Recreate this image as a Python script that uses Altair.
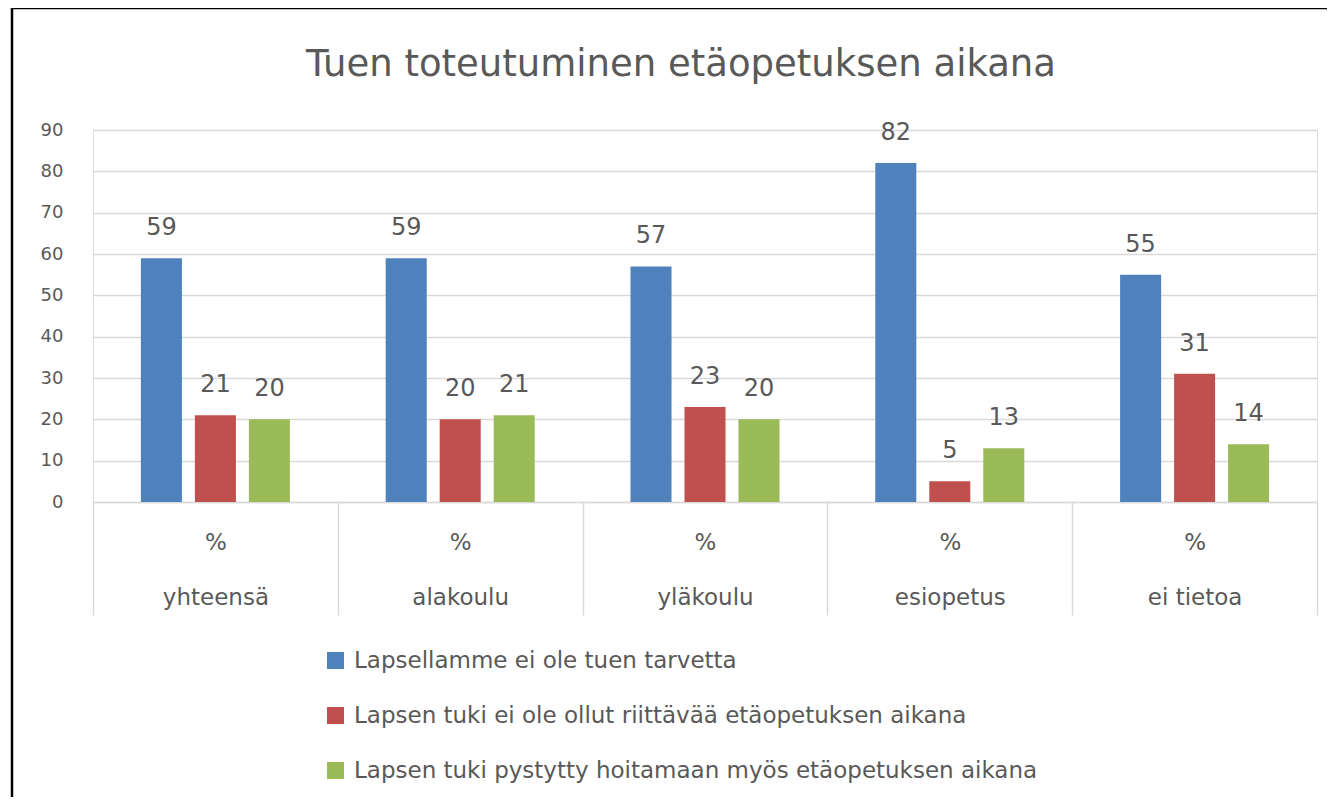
import altair as alt
import pandas as pd

# ---- data ----
categories = ["yhteensä", "alakoulu", "yläkoulu", "esiopetus", "ei tietoa"]
series = [
    "Lapsellamme ei ole tuen tarvetta",
    "Lapsen tuki ei ole ollut riittävää etäopetuksen aikana",
    "Lapsen tuki pystytty hoitamaan myös etäopetuksen aikana",
]
no_need = [59, 59, 57, 82, 55]
not_enough = [21, 20, 23, 5, 31]
handled = [20, 21, 20, 13, 14]
colors = ["#4F81BD", "#C0504D", "#9BBB59"]
y_ticks = [0, 10, 20, 30, 40, 50, 60, 70, 80, 90]
title_text = "Tuen toteutuminen etäopetuksen aikana"

rows = []
for s, vals in zip(series, [no_need, not_enough, handled]):
    for c, v in zip(categories, vals):
        rows.append({"category": c, "series": s, "value": v})
df = pd.DataFrame(rows)

FONT = "DejaVu Sans"
TEXT = "#595959"
GRID = "#D9D9D9"
W, H = 1224, 372

x_enc = alt.X(
    "category:N",
    sort=categories,
    scale=alt.Scale(paddingInner=0, paddingOuter=0),
    axis=alt.Axis(
        title=None,
        labelAngle=0,
        tickBand="extent",
        tickSize=113,
        tickColor=GRID,
        tickWidth=1.5,
        domainColor=GRID,
        domainWidth=1.5,
        labelExpr="datum.label ? ['%', datum.label] : ''",
        labelLineHeight=55,
        labelBaseline="top",
        labelPadding=-84,
        labelFont=FONT,
        labelFontSize=23,
        labelColor=TEXT,
        labelLimit=300,
    ),
)
xo_enc = alt.XOffset(
    "series:N", sort=series, scale=alt.Scale(paddingInner=0.24, paddingOuter=0.887)
)
y_enc = alt.Y(
    "value:Q",
    scale=alt.Scale(domain=[0, 90], nice=False),
    axis=alt.Axis(
        title=None,
        values=y_ticks,
        domain=False,
        ticks=False,
        labelPadding=30,
        grid=True,
        gridColor=GRID,
        gridWidth=1.5,
        labelFont=FONT,
        labelFontSize=18,
        labelColor=TEXT,
    ),
)
color_enc = alt.Color(
    "series:N",
    sort=series,
    scale=alt.Scale(domain=series, range=colors),
    legend=alt.Legend(
        title=None,
        orient="none",
        legendX=231,
        legendY=519,
        direction="vertical",
        symbolType="square",
        symbolSize=289,
        symbolStrokeWidth=0,
        labelFont=FONT,
        labelFontSize=23,
        labelColor=TEXT,
        labelOffset=7,
        rowPadding=31,
        labelLimit=1000,
        padding=0,
    ),
)

base = alt.Chart(df)
bars = base.mark_bar().encode(x=x_enc, xOffset=xo_enc, y=y_enc, color=color_enc)
labels = base.mark_text(
    baseline="alphabetic", dy=-23, font=FONT, fontSize=24, color=TEXT
).encode(x=x_enc, xOffset=xo_enc, y=y_enc, text="value:Q")

frame_data = alt.Data(values=[{"k": 0}])
top_line = alt.Chart(frame_data).mark_rule(color="black", strokeWidth=2.5).encode(
    x=alt.value(-81), x2=alt.value(1300), y=alt.value(-122)
)
left_line = alt.Chart(frame_data).mark_rule(color="black", strokeWidth=2.5).encode(
    x=alt.value(-81), y=alt.value(-122), y2=alt.value(700)
)

chart = (
    alt.layer(bars, labels, top_line, left_line)
    .properties(
        width=W,
        height=H,
        title=alt.TitleParams(
            title_text,
            font=FONT,
            fontSize=37,
            fontWeight="normal",
            color=TEXT,
            anchor="middle",
            frame="group",
            offset=0,
            dx=-24,
            dy=77,
        ),
        padding={"left": 85, "top": 122, "right": 10, "bottom": 295},
        autosize=alt.AutoSizeParams(type="none"),
    )
    .configure_view(stroke=None)
    .configure(background="white")
)

chart.save("out.html", embed_options={"renderer": "svg", "actions": False})
